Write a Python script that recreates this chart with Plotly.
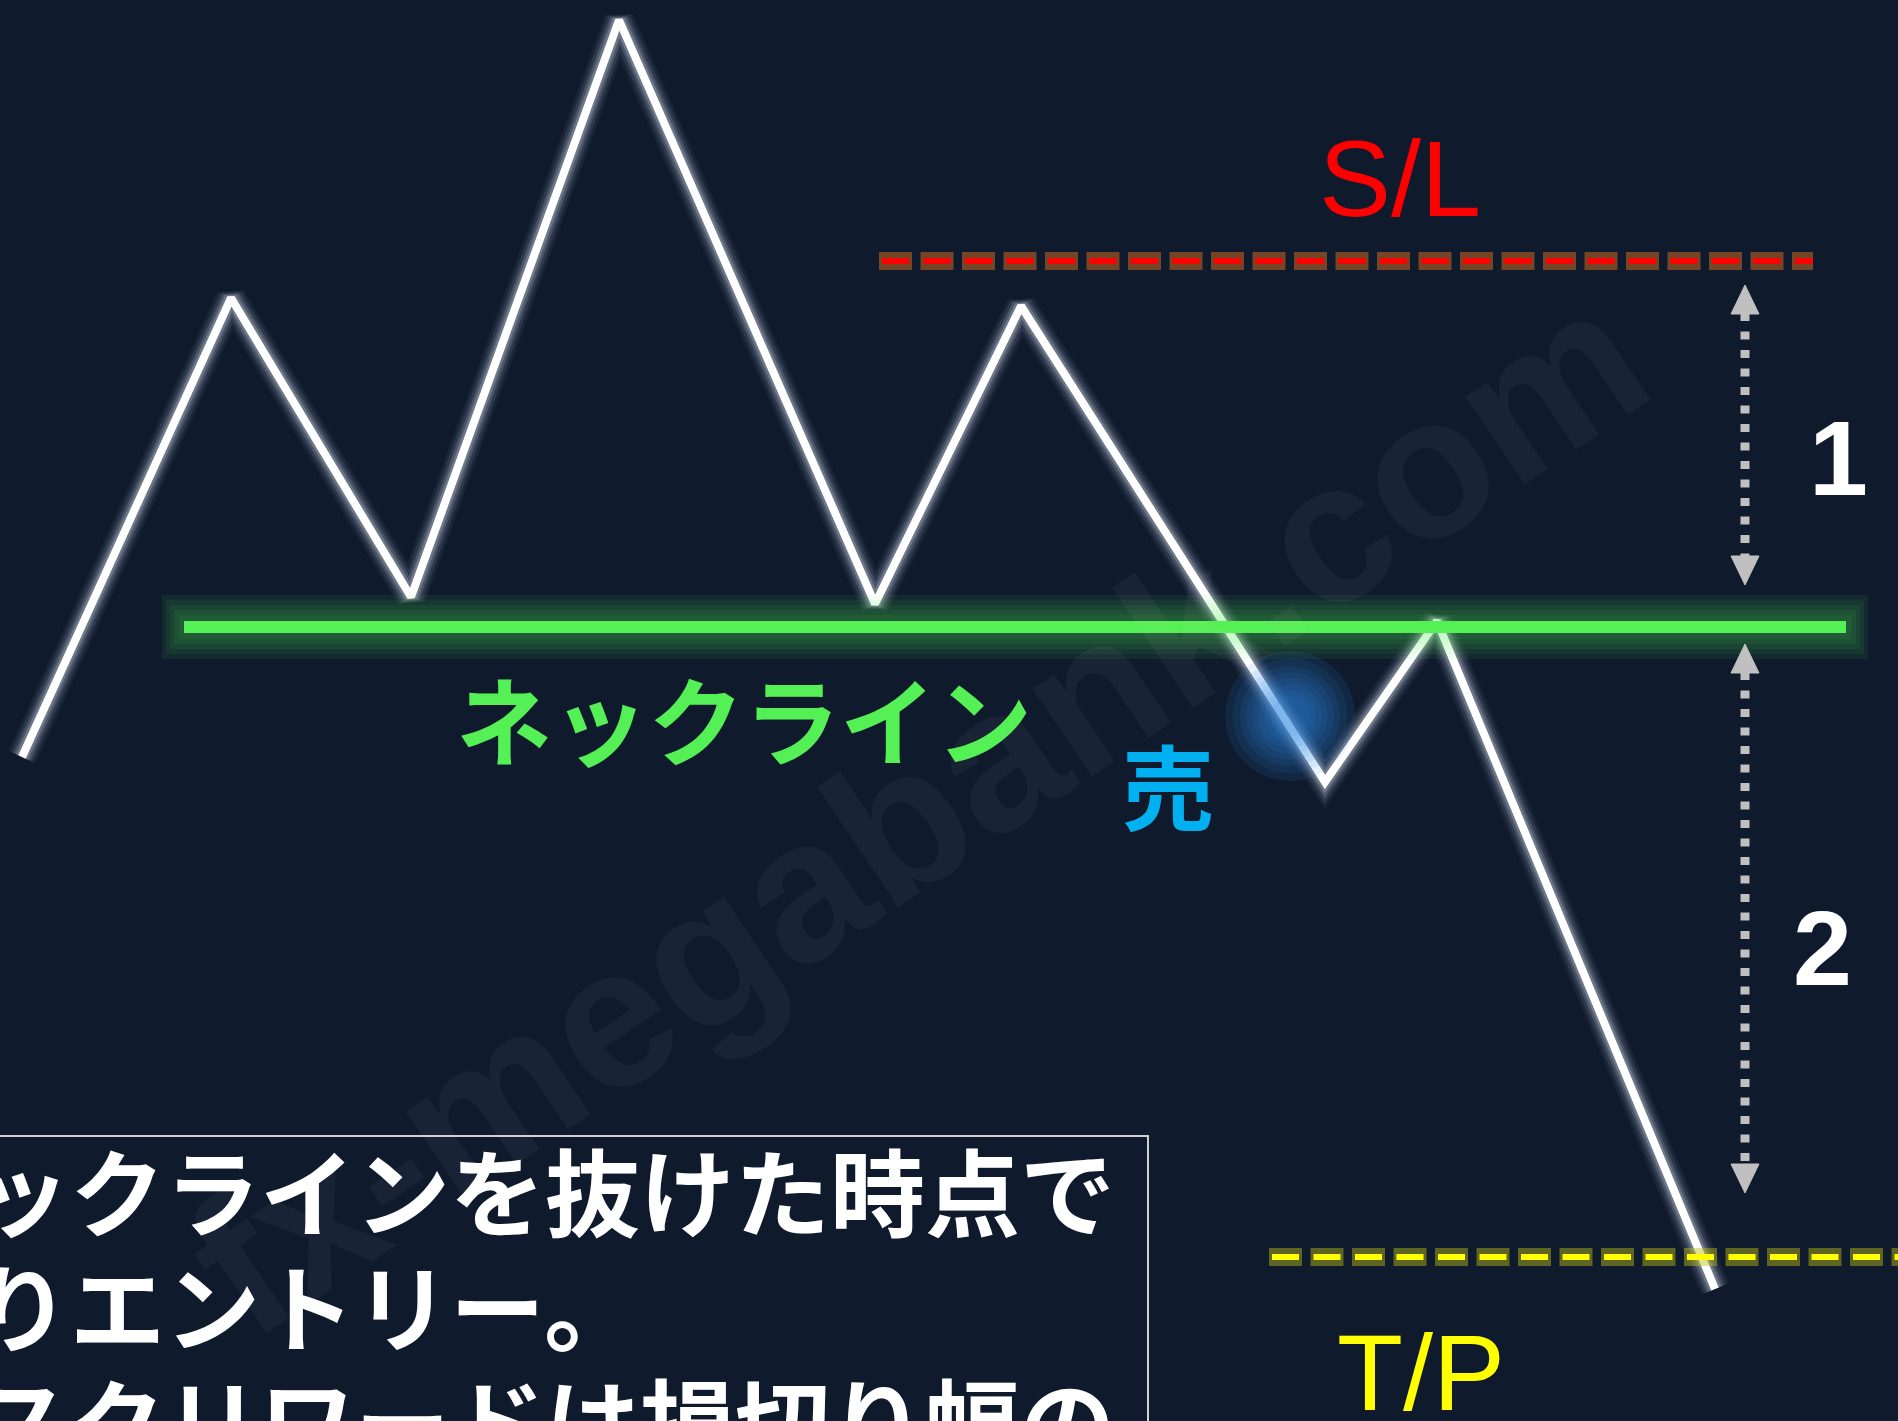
import plotly.graph_objects as go

# price path (screen-like units: x to the right, y downward)
price_x = [22, 231, 411, 619, 875, 1021, 1325, 1437, 1715]
price_y = [757, 298, 597, 20, 604, 306, 782, 621, 1289]

neck_x = [184, 1846]
neck_y = 627
sl_x = [882, 1813]
sl_y = 261
tp_x = [1272, 1898]
tp_y = 1257

sell_x, sell_y = 1290, 716

arrow_x = 1745
arrow1 = [285, 585]
arrow2 = [644, 1193]

box_lines = ["ネックラインを抜けた時点で", "売りエントリー。", "リスクリワードは損切り幅の"]
box_line_y = [1188, 1303, 1418]

BG = "#0f1b2d"
W, H = 1898, 1421

fig = go.Figure()

# glow under the price line
for w, c in [(30, "rgba(160,170,185,0.08)"), (24, "rgba(170,180,195,0.14)"),
             (18, "rgba(180,190,205,0.22)"), (13, "rgba(190,200,210,0.3)")]:
    fig.add_trace(go.Scatter(x=price_x, y=price_y, mode="lines", line=dict(color=c, width=w)))
fig.add_trace(go.Scatter(x=price_x, y=price_y, mode="lines", line=dict(color="white", width=8)))

# blue entry glow
for s in [130, 115, 100, 88, 76, 64, 52, 40]:
    fig.add_trace(go.Scatter(x=[sell_x], y=[sell_y], mode="markers",
                             marker=dict(size=s, color="rgba(50,140,230,0.11)", line=dict(width=0))))

# neckline with glow
for w, ext in [(64, 22), (54, 18), (44, 14), (34, 10), (24, 5)]:
    fig.add_trace(go.Scatter(x=[neck_x[0] - ext, neck_x[1] + ext], y=[neck_y, neck_y], mode="lines",
                             line=dict(color="rgba(85,240,85,0.07)", width=w)))
fig.add_trace(go.Scatter(x=neck_x, y=[neck_y, neck_y], mode="lines", line=dict(color="#55f055", width=12)))

# S/L and T/P dashed levels with glow
for lx, ly, glow, col in [(sl_x, sl_y, "rgba(200,105,35,0.55)", "#ff0000"),
                          (tp_x, tp_y, "rgba(190,190,20,0.45)", "#ffff00")]:
    fig.add_trace(go.Scatter(x=[lx[0] - 3, lx[1]], y=[ly, ly], mode="lines",
                             line=dict(color=glow, width=18, dash="33px,8.5px")))
    fig.add_trace(go.Scatter(x=lx, y=[ly, ly], mode="lines",
                             line=dict(color=col, width=6, dash="27px,14.5px")))

# distance arrows
for y0, y1 in [arrow1, arrow2]:
    fig.add_trace(go.Scatter(x=[arrow_x, arrow_x], y=[y0 + 28, y1 - 28], mode="lines",
                             line=dict(color="#c0c0c0", width=9, dash="8px,10.5px")))
    for tip, sgn in [(y0, 1), (y1, -1)]:
        fig.add_trace(go.Scatter(x=[arrow_x, arrow_x - 14, arrow_x + 14, arrow_x],
                                 y=[tip, tip + sgn * 29, tip + sgn * 29, tip],
                                 mode="lines", fill="toself", fillcolor="#c0c0c0",
                                 line=dict(color="#c0c0c0", width=1)))

# text box
fig.add_shape(type="rect", x0=-20, x1=1148, y0=1136, y1=1440,
              line=dict(color="#d0d0d0", width=2), fillcolor="rgba(0,0,0,0)")

jp = "Noto Sans CJK JP"
for txt, yy in zip(box_lines, box_line_y):
    fig.add_annotation(x=-122 / W, xref="paper", y=1 - yy / H, yref="paper", text=txt,
                       showarrow=False, xanchor="left", yanchor="middle",
                       font=dict(family=jp, size=95, color="white", weight="bold"))

# watermark
fig.add_annotation(x=917, y=811, text="fx-megabank.com", showarrow=False, textangle=-34,
                   font=dict(family="Liberation Sans", size=200, color="rgba(255,255,255,0.04)",
                             weight="bold"))

fig.add_annotation(x=744, y=716, text="ネックライン", showarrow=False,
                   font=dict(family=jp, size=96, color="#55f055", weight="bold"))
fig.add_annotation(x=1168, y=782, text="売", showarrow=False,
                   font=dict(family=jp, size=92, color="#00b0f0", weight="bold"))
fig.add_annotation(x=1400, y=178, text="S/L", showarrow=False,
                   font=dict(family="Liberation Sans", size=108, color="#ff0000"))
fig.add_annotation(x=1421, y=1372, text="T/P", showarrow=False,
                   font=dict(family="Liberation Sans", size=108, color="#ffff00"))
fig.add_annotation(x=1838, y=458, text="1", showarrow=False,
                   font=dict(family="Liberation Sans", size=106, color="white", weight="bold"))
fig.add_annotation(x=1822, y=948, text="2", showarrow=False,
                   font=dict(family="Liberation Sans", size=106, color="white", weight="bold"))

fig.update_layout(
    width=W, height=H,
    margin=dict(l=0, r=0, t=0, b=0),
    paper_bgcolor=BG, plot_bgcolor=BG,
    showlegend=False,
    xaxis=dict(range=[0, W], visible=False, fixedrange=True),
    yaxis=dict(range=[H, 0], visible=False, fixedrange=True),
)

fig.write_html("out.html", config={"displayModeBar": False},
               post_script="document.body.style.margin='0';document.body.style.overflow='hidden';"
                           "document.body.style.background='" + BG + "';")
